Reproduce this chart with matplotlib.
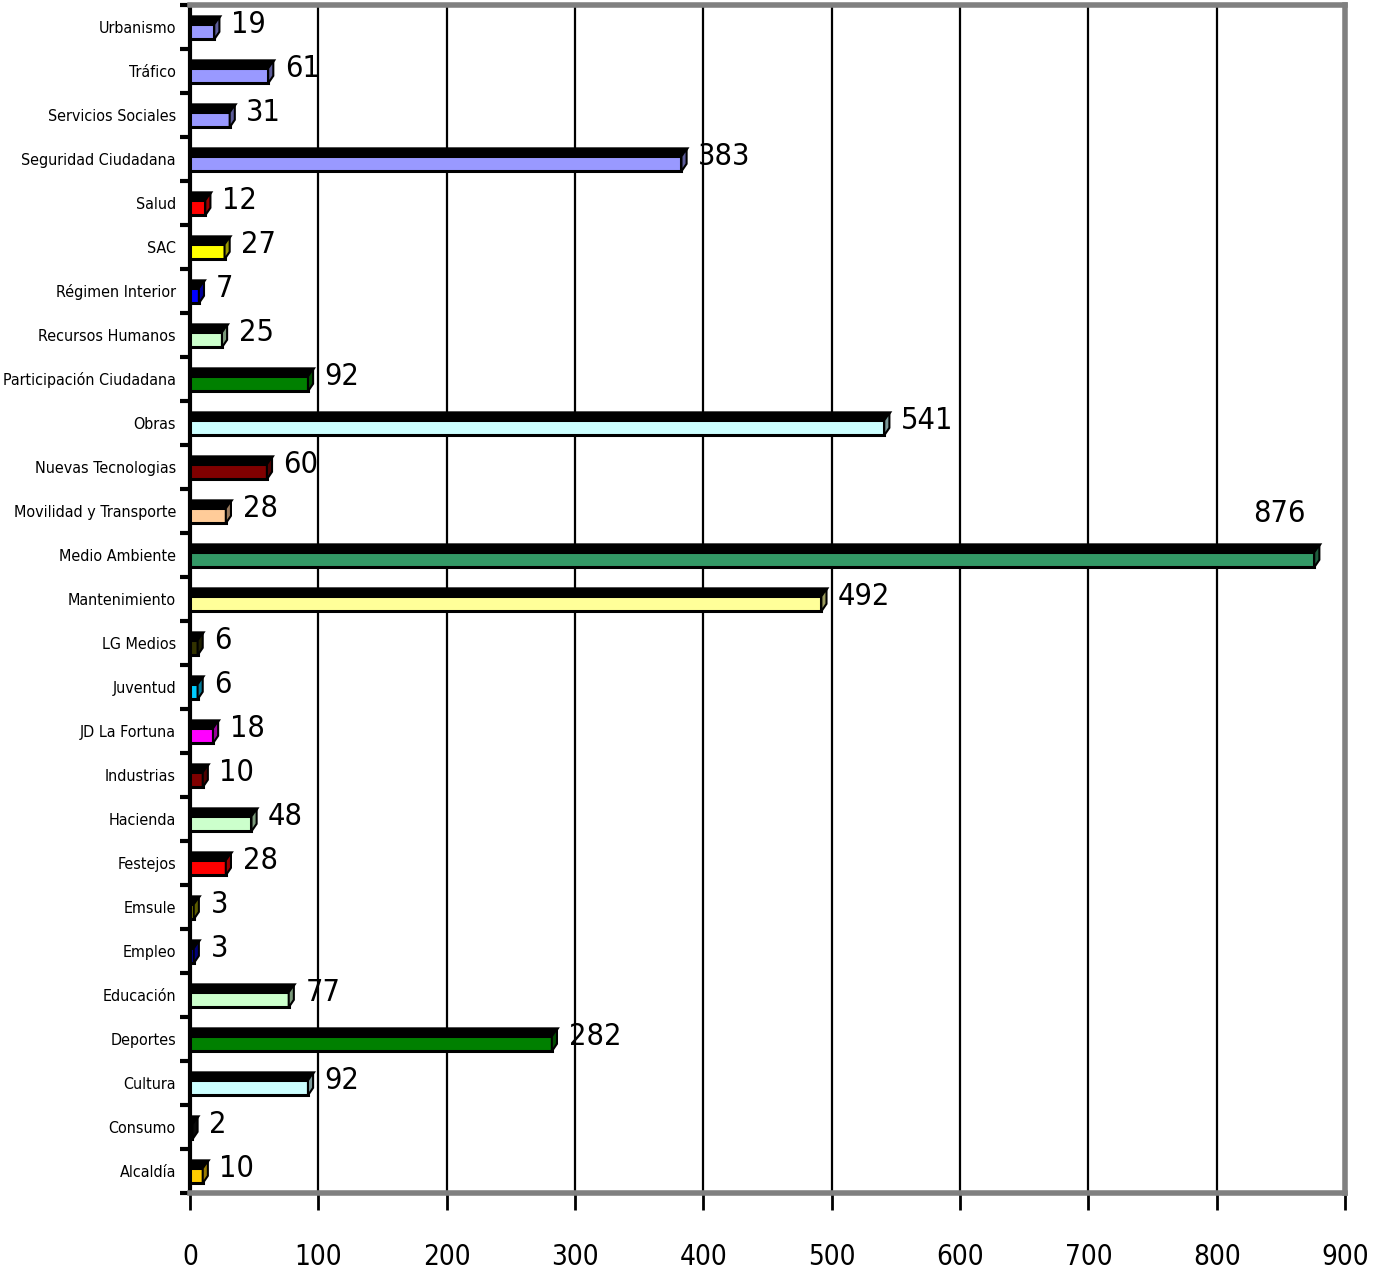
import matplotlib

matplotlib.use("Agg")
import matplotlib.pyplot as plt
from matplotlib import font_manager
from matplotlib.patches import Polygon

# categories listed bottom -> top (as drawn on the y axis)
categories = [
    "Alcaldía", "Consumo", "Cultura", "Deportes", "Educación", "Empleo", "Emsule",
    "Festejos", "Hacienda", "Industrias", "JD La Fortuna", "Juventud", "LG Medios",
    "Mantenimiento", "Medio Ambiente", "Movilidad y Transporte", "Nuevas Tecnologias",
    "Obras", "Participación Ciudadana", "Recursos Humanos", "Régimen Interior", "SAC",
    "Salud", "Seguridad Ciudadana", "Servicios Sociales", "Tráfico", "Urbanismo",
]
values = [10, 2, 92, 282, 77, 3, 3, 28, 48, 10, 18, 6, 6, 492, 876, 28, 60, 541, 92,
          25, 7, 27, 12, 383, 31, 61, 19]
colors = [
    "#FFCC00", "#111111", "#CCFFFF", "#008000", "#CCFFCC", "#0000CC", "#999900",
    "#FF0000", "#CCFFCC", "#800000", "#FF00FF", "#00CCFF", "#333300",
    "#FFFF99", "#339966", "#FFCC99", "#800000",
    "#CCFFFF", "#008000", "#CCFFCC", "#0000FF", "#FFFF00",
    "#FF0000", "#9999FF", "#9999FF", "#9999FF", "#9999FF",
]
xticks = [0, 100, 200, 300, 400, 500, 600, 700, 800, 900]

# look for a narrow face (the original uses a condensed Arial-like font)
narrow = None
for f in font_manager.fontManager.ttflist:
    if f.style != "normal" or f.weight not in (400, "normal", "regular"):
        continue
    if "Narrow" in f.name or "Condensed" in f.name or f.stretch in (
            "condensed", "semi-condensed", "extra-condensed", 75, 62.5, 87.5):
        narrow = f
        break

if narrow is not None:
    plt.rcParams["font.family"] = [narrow.name, "DejaVu Sans"]
    plt.rcParams["font.stretch"] = narrow.stretch
    cat_size, val_size, tick_size = 11.5, 22, 20
else:
    plt.rcParams["font.family"] = ["Liberation Sans", "DejaVu Sans"]
    cat_size, val_size, tick_size = 11, 21, 19


def darker(hex_color, f=0.6):
    r, g, b = matplotlib.colors.to_rgb(hex_color)
    return (r * f, g * f, b * f)


fig = plt.figure(figsize=(13.76, 12.74), dpi=100)
ax = fig.add_axes([0.138, 0.0636, 0.8395, 0.9325])

n = len(categories)
ypos = list(range(n))
face_h = 0.34
shift = -0.11
dx, dy = 4.0, 0.17

ax.barh([y + shift for y in ypos], values, height=face_h, color=colors,
        edgecolor="black", linewidth=2.2, zorder=3)

for y, v, c in zip(ypos, values, colors):
    bot = y + shift - face_h / 2
    top = y + shift + face_h / 2
    ax.add_patch(Polygon([(0, top), (v, top), (v + dx, top + dy), (0, top + dy)],
                         closed=True, facecolor="black", edgecolor="black",
                         linewidth=2.2, zorder=2.9))
    ax.add_patch(Polygon([(v, bot), (v, top), (v + dx, top + dy), (v + dx, bot + dy)],
                         closed=True, facecolor=darker(c), edgecolor="black",
                         linewidth=1.5, zorder=3.1))
    if v > 800:
        ax.text(v - 7, y + 0.95, str(v), ha="right", va="center", fontsize=val_size, zorder=4)
    else:
        ax.text(v + dx + 9, y + 0.05, str(v), ha="left", va="center", fontsize=val_size, zorder=4)

ax.set_xlim(0, 900)
ax.set_ylim(-0.5, n - 0.5)
ax.set_xticks(xticks)
ax.set_xticklabels([str(t) for t in xticks], fontsize=tick_size)
ax.set_yticks(ypos)
ax.set_yticklabels(categories, fontsize=cat_size)
ax.set_yticks([y - 0.5 for y in range(n + 1)], minor=True)
ax.tick_params(axis="y", which="major", length=0, pad=10)
ax.tick_params(axis="y", which="minor", length=7, width=3, color="black")
ax.tick_params(axis="x", length=12, width=2, color="black", pad=24)

ax.grid(axis="x", color="black", linewidth=1.6, zorder=0)
ax.set_axisbelow(True)

ax.spines["left"].set_color("black")
ax.spines["left"].set_linewidth(3)
for side in ("top", "right", "bottom"):
    ax.spines[side].set_color("#808080")
    ax.spines[side].set_linewidth(4)

fig.savefig("out.png", dpi=100)
